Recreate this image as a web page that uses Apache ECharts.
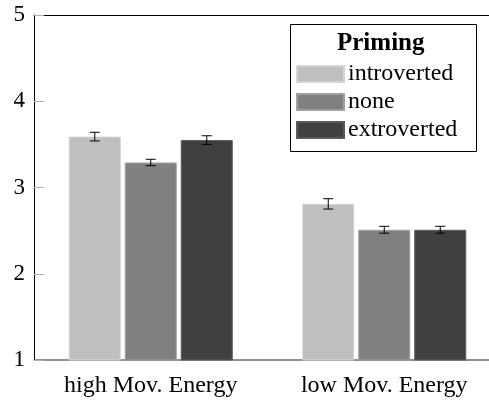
<!DOCTYPE html>
<html>
<head>
<meta charset="utf-8">
<script src="https://cdn.jsdelivr.net/npm/echarts@6/dist/echarts.min.js"></script>
<style>html,body{margin:0;padding:0;background:#fff;overflow:hidden;width:489px;height:400px}#c{width:501px;height:400px}</style>
</head>
<body>
<div id="c"></div>
<script>
var categories = ['high Mov. Energy', 'low Mov. Energy'];
var seriesNames = ['introverted', 'none', 'extroverted'];
var introverted = [3.59, 2.81];
var none = [3.29, 2.51];
var extroverted = [3.55, 2.51];
var introvertedErr = [0.05, 0.06];
var noneErr = [0.037, 0.04];
var extrovertedErr = [0.05, 0.04];
var yTicks = [1, 2, 3, 4, 5];
var legendTitle = 'Priming';

var values = [introverted, none, extroverted];
var errs = [introvertedErr, noneErr, extrovertedErr];
var colors = ['#bfbfbf', '#808080', '#404040'];
var borders = ['#d4d4d4', '#a0a0a0', '#5a5a5a'];
var FONT = 'Liberation Serif';
var BAR_W = 52, BAR_GAP = 4;

var chart = echarts.init(document.getElementById('c'));
var series = [];
values.forEach(function (vals, i) {
  series.push({
    name: seriesNames[i], type: 'bar', data: vals,
    barWidth: BAR_W, barGap: (BAR_GAP / BAR_W * 100) + '%',
    itemStyle: { color: colors[i], borderColor: borders[i], borderWidth: 1 },
    z: 2
  });
});
values.forEach(function (vals, i) {
  var offset = (i - 1) * (BAR_W + BAR_GAP);
  series.push({
    type: 'custom', z: 5, silent: true,
    data: vals.map(function (v, k) { return [k, v, errs[i][k]]; }),
    encode: { x: 0, y: 1 },
    renderItem: function (params, api) {
      var k = api.value(0), v = api.value(1), e = api.value(2);
      var hi = api.coord([k, v + e]);
      var lo = api.coord([k, v - e]);
      var x = hi[0] + offset, cw = 5;
      var st = { stroke: '#000', lineWidth: 1 };
      return { type: 'group', children: [
        { type: 'line', shape: { x1: x, y1: hi[1], x2: x, y2: lo[1] }, style: st },
        { type: 'line', shape: { x1: x - cw, y1: hi[1], x2: x + cw, y2: hi[1] }, style: st },
        { type: 'line', shape: { x1: x - cw, y1: lo[1], x2: x + cw, y2: lo[1] }, style: st }
      ]};
    }
  });
});

chart.setOption({
  animation: false,
  textStyle: { fontFamily: FONT },
  grid: { left: 34, top: 15, right: 0, bottom: 40 },
  legend: {
    data: seriesNames, orient: 'vertical', left: 296, top: 62, padding: 0,
    itemWidth: 47, itemHeight: 16, itemGap: 4, icon: 'rect',
    textStyle: { fontFamily: FONT, fontSize: 24, color: '#000', padding: [0, 0, 0, -1] },
    selectedMode: false
  },
  graphic: [{
    type: 'rect', left: 288, top: 22, shape: { width: 186, height: 127 },
    style: { fill: 'none', stroke: '#000', lineWidth: 1 }, z: 10
  }, {
    type: 'text', left: 337, top: 31, z: 10,
    style: { text: legendTitle, fontFamily: FONT, fontSize: 25, fontWeight: 'bold', fill: '#000' }
  }],
  xAxis: [{
    type: 'category', data: categories, position: 'bottom',
    axisLine: { lineStyle: { color: '#6e6e6e', width: 1.5 } },
    axisTick: { alignWithLabel: true, length: 8, lineStyle: { color: '#b0b0b0' } },
    axisLabel: { fontFamily: FONT, fontSize: 24, color: '#000', margin: 14 }
  }, {
    type: 'category', data: categories, position: 'top',
    axisLine: { lineStyle: { color: '#000', width: 1 } },
    axisTick: { alignWithLabel: true, length: 9, lineStyle: { color: '#b0b0b0' } },
    axisLabel: { show: false }
  }],
  yAxis: {
    type: 'value', min: yTicks[0], max: yTicks[yTicks.length - 1], interval: 1,
    axisLine: { show: true, lineStyle: { color: '#000' } },
    axisTick: { show: true, inside: true, length: 10, lineStyle: { color: '#b0b0b0' } },
    splitLine: { show: false },
    axisLabel: { fontFamily: FONT, fontSize: 23, color: '#000', margin: 9 }
  },
  series: series
});
</script>
</body>
</html>
